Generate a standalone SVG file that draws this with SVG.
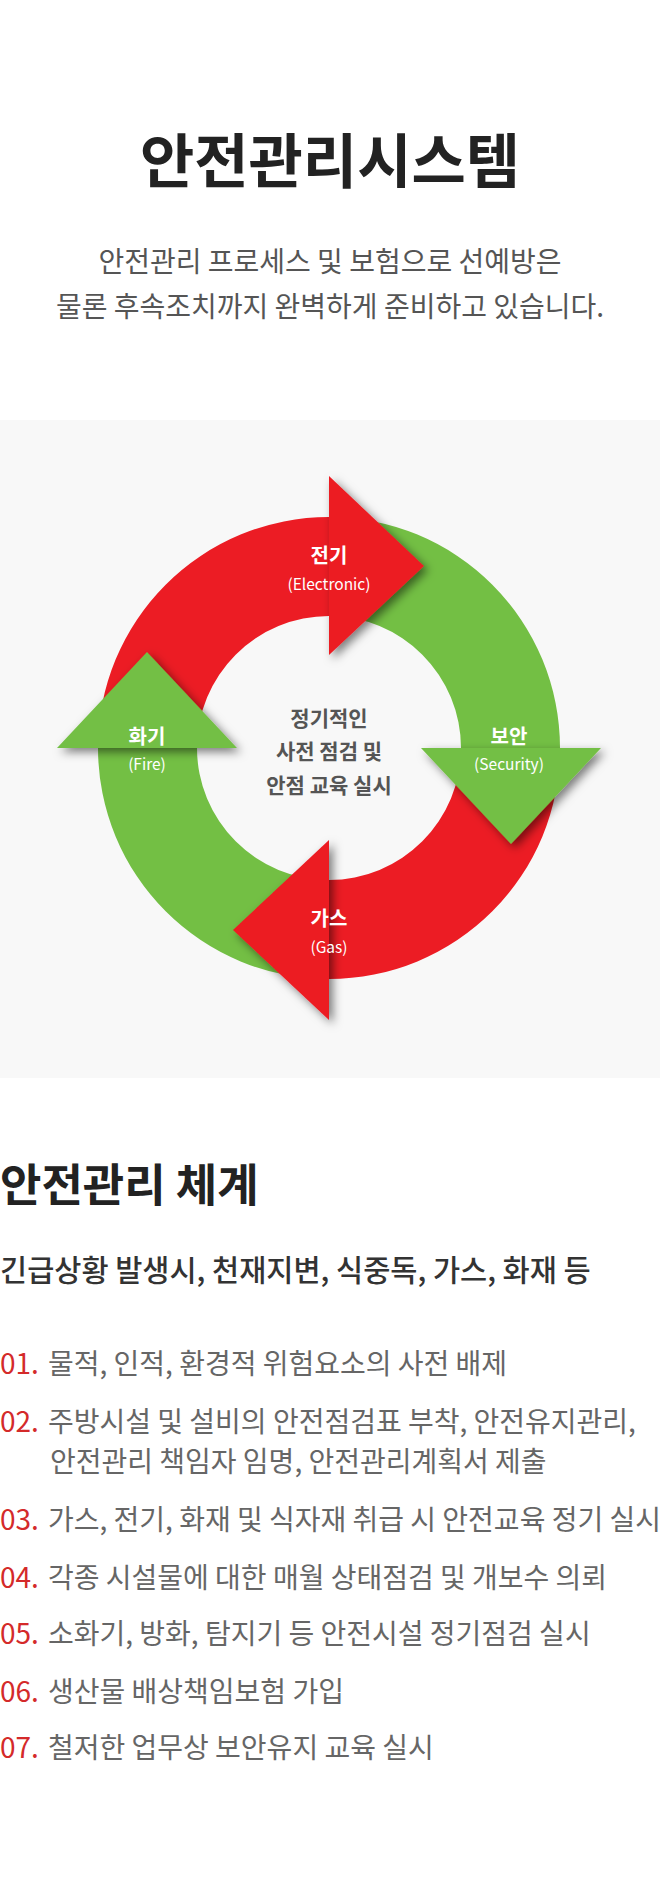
<svg xmlns="http://www.w3.org/2000/svg" width="660" height="1892" viewBox="0 0 660 1892">
<style>
text{font-family:"Noto Sans CJK KR","Noto Sans",sans-serif}
.red{fill:#ec1c24}.green{fill:#73bf44}
.lbl{fill:#fff;font-weight:700;font-size:20px;text-anchor:middle}
.en{fill:#fff;font-size:15.5px;text-anchor:middle}
.ctr{fill:#555;font-weight:700;font-size:21px;text-anchor:middle}
.item{font-size:28px;fill:#666}
.num{fill:#d42a2a}
</style>
<defs>
<filter id="sh" x="-30%" y="-30%" width="160%" height="160%">
<feDropShadow dx="4" dy="4" stdDeviation="5" flood-color="#000" flood-opacity="0.5"/>
</filter>
</defs>
<rect width="660" height="1892" fill="#fff"/>
<g id="header">
<text x="330" y="183" font-size="59" font-weight="700" fill="#222" text-anchor="middle">안전관리시스템</text>
<text x="330" y="272" font-size="28" fill="#555" text-anchor="middle">안전관리 프로세스 및 보험으로 선예방은</text>
<text x="330" y="317" font-size="28" fill="#555" text-anchor="middle">물론 후속조치까지 완벽하게 준비하고 있습니다.</text>
</g>
<rect x="0" y="420" width="660" height="658" fill="#f8f8f8"/>
<g id="connectors">
<path class="red" d="M98,748 A231,231 0 0 1 329,517 L329,616 A132,132 0 0 0 197,748 Z"/>
<path class="green" d="M329,517 A231,231 0 0 1 560,748 L461,748 A132,132 0 0 0 329,616 Z"/>
<path class="red" d="M560,748 A231,231 0 0 1 329,979 L329,880 A132,132 0 0 0 461,748 Z"/>
<path class="green" d="M329,979 A231,231 0 0 1 98,748 L197,748 A132,132 0 0 0 329,880 Z"/>
</g>
<g id="electronic">
<polygon class="red" filter="url(#sh)" points="329,476 424,566 329,655"/>
<text class="lbl" x="329" y="563">전기</text>
<text class="en" x="329" y="590">(Electronic)</text>
</g>
<g id="security">
<polygon class="green" filter="url(#sh)" points="421,748 601,748 511,844"/>
<text class="lbl" x="509" y="744">보안</text>
<text class="en" x="509" y="770">(Security)</text>
</g>
<g id="gas">
<polygon class="red" filter="url(#sh)" points="329,840 233,930 329,1020"/>
<text class="lbl" x="329" y="926">가스</text>
<text class="en" x="329" y="953">(Gas)</text>
</g>
<g id="fire">
<polygon class="green" filter="url(#sh)" points="57,748 147,652 237,748"/>
<text class="lbl" x="147" y="744">화기</text>
<text class="en" x="147" y="770">(Fire)</text>
</g>
<g id="center">
<text class="ctr" x="329" y="726">정기적인</text>
<text class="ctr" x="329" y="759">사전 점검 및</text>
<text class="ctr" x="329" y="793">안점 교육 실시</text>
</g>
<g id="system">
<text x="0" y="1202" font-size="45" font-weight="700" fill="#222">안전관리 체계</text>
<text x="0" y="1281" font-size="29.5" font-weight="500" fill="#333">긴급상황 발생시, 천재지변, 식중독, 가스, 화재 등</text>
<text class="item" y="1374"><tspan class="num" x="0">01.</tspan><tspan x="48">물적, 인적, 환경적 위험요소의 사전 배제</tspan></text>
<text class="item" y="1432"><tspan class="num" x="0">02.</tspan><tspan x="48">주방시설 및 설비의 안전점검표 부착, 안전유지관리,</tspan></text>
<text class="item" x="50" y="1472">안전관리 책임자 임명, 안전관리계획서 제출</text>
<text class="item" y="1530"><tspan class="num" x="0">03.</tspan><tspan x="48">가스, 전기, 화재 및 식자재 취급 시 안전교육 정기 실시</tspan></text>
<text class="item" y="1588"><tspan class="num" x="0">04.</tspan><tspan x="48">각종 시설물에 대한 매월 상태점검 및 개보수 의뢰</tspan></text>
<text class="item" y="1644"><tspan class="num" x="0">05.</tspan><tspan x="48">소화기, 방화, 탐지기 등 안전시설 정기점검 실시</tspan></text>
<text class="item" y="1702"><tspan class="num" x="0">06.</tspan><tspan x="48">생산물 배상책임보험 가입</tspan></text>
<text class="item" y="1758"><tspan class="num" x="0">07.</tspan><tspan x="48">철저한 업무상 보안유지 교육 실시</tspan></text>
</g>
</svg>
